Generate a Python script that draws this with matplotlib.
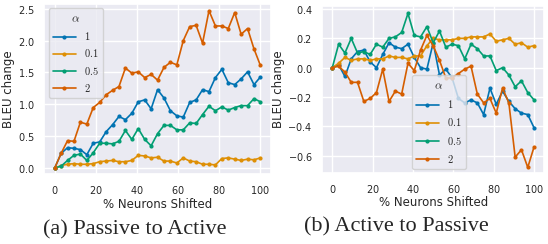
import matplotlib
matplotlib.use("Agg")
import matplotlib.pyplot as plt
import seaborn as sns
import numpy as np

sns.set_theme(style="darkgrid", palette="colorblind")
plt.rcParams['mathtext.fontset'] = 'cm'
plt.rcParams['axes.formatter.use_mathtext'] = True

# % neurons shifted, 33 steps
pct = np.linspace(0, 100, 33)
alphas = ['1', '0.1', '0.5', '2']

# (a) passive to active
pa_1 = [0, 0.23, 0.32, 0.31, 0.29, 0.21, 0.39, 0.41, 0.57, 0.68, 0.81, 0.76, 0.86,
        1.04, 1.07, 0.93, 1.23, 1.10, 0.90, 0.82, 0.80, 1.03, 1.07, 1.23, 1.20,
        1.42, 1.55, 1.34, 1.31, 1.40, 1.51, 1.31, 1.43]
pa_01 = [0, 0.04, 0.06, 0.07, 0.06, 0.06, 0.07, 0.10, 0.11, 0.12, 0.10, 0.10, 0.12,
         0.20, 0.19, 0.16, 0.17, 0.11, 0.11, 0.08, 0.16, 0.11, 0.10, 0.06, 0.06,
         0.05, 0.15, 0.16, 0.14, 0.12, 0.14, 0.13, 0.16]
pa_05 = [0, 0.03, 0.12, 0.20, 0.22, 0.12, 0.24, 0.39, 0.39, 0.38, 0.42, 0.59, 0.45,
         0.62, 0.45, 0.35, 0.54, 0.67, 0.67, 0.60, 0.60, 0.71, 0.70, 0.84, 0.97,
         0.90, 0.96, 0.91, 0.95, 0.98, 0.98, 1.09, 1.04]
pa_2 = [0, 0.23, 0.43, 0.42, 0.72, 0.69, 0.95, 1.03, 1.15, 1.22, 1.28, 1.57, 1.49,
        1.51, 1.42, 1.47, 1.38, 1.58, 1.66, 1.62, 2.00, 2.22, 2.24, 1.96, 2.47,
        2.23, 2.23, 2.19, 2.44, 2.10, 2.19, 1.87, 1.61]

# (b) active to passive
ap_1 = [0, 0.02, -0.06, 0.06, 0.11, 0.12, 0.04, 0.00, 0.09, 0.17, 0.14, 0.13, 0.16,
        0.07, 0.00, -0.01, 0.17, -0.05, -0.01, -0.07, -0.21, -0.24, -0.22, -0.24,
        -0.32, -0.14, -0.25, -0.16, -0.23, -0.28, -0.31, -0.32, -0.41]
ap_01 = [0, 0.03, 0.07, 0.05, 0.06, 0.06, 0.05, 0.06, 0.06, 0.08, 0.07, 0.07, 0.06,
         0.08, 0.08, 0.15, 0.20, 0.19, 0.19, 0.19, 0.20, 0.20, 0.21, 0.21, 0.21,
         0.23, 0.18, 0.19, 0.20, 0.16, 0.17, 0.14, 0.15]
ap_05 = [0, 0.16, 0.10, 0.20, 0.10, 0.11, 0.09, 0.16, 0.14, 0.20, 0.21, 0.24, 0.37,
         0.22, 0.21, 0.28, 0.17, 0.25, 0.14, 0.16, 0.15, 0.06, 0.16, 0.13, 0.08,
         0.08, -0.02, 0.00, -0.05, -0.13, -0.09, -0.17, -0.22]
ap_2 = [0, 0.01, -0.03, -0.10, -0.10, -0.23, -0.21, -0.17, -0.01, -0.23, -0.16,
        -0.18, 0.03, -0.02, 0.12, 0.22, 0.15, 0.05, -0.07, -0.07, -0.04, -0.01,
        0.01, -0.18, -0.24, -0.21, -0.31, -0.14, -0.24, -0.61, -0.56, -0.68, -0.54]

fig = plt.figure(figsize=(5.48, 2.44), dpi=100)
ax1 = fig.add_axes([0.081, 0.285, 0.413, 0.70])
ax2 = fig.add_axes([0.588, 0.29, 0.405, 0.685])

def draw(ax, series):
    for lab, ys in zip(alphas, series):
        ax.plot(pct, ys, marker='o', markersize=2, linewidth=1.2, label='$' + lab + '$')
    ax.tick_params(labelsize=7, pad=1)
    ax.set_xlabel('% Neurons Shifted', fontsize=8.5, labelpad=1)
    ax.set_ylabel('BLEU change', fontsize=8.5, labelpad=2)
    ax.set_xlim(-5, 105)

draw(ax1, [pa_1, pa_01, pa_05, pa_2])
ax1.set_ylim(-0.1, 2.58)
ax1.set_yticks([0, 0.5, 1.0, 1.5, 2.0, 2.5])
ax1.set_xticks([0, 20, 40, 60, 80, 100])
ax1.legend(title=r'$\alpha$', loc='upper left', fontsize=7.5, title_fontsize=8.5,
           handlelength=2.2, borderaxespad=0.4)

draw(ax2, [ap_1, ap_01, ap_05, ap_2])
ax2.set_ylim(-0.72, 0.42)
ax2.set_yticks([-0.6, -0.4, -0.2, 0.0, 0.2, 0.4])
ax2.set_xticks([0, 20, 40, 60, 80, 100])
ax2.legend(title=r'$\alpha$', loc='lower left', bbox_to_anchor=(0.385, 0.0),
           fontsize=7.5, title_fontsize=8.5, handlelength=2.2, borderaxespad=0.4,
           labelspacing=0.6)

fig.text(0.246, 0.04, '(a) Passive to Active', family='Liberation Serif',
         fontsize=16, ha='center')
fig.text(0.724, 0.05, '(b) Active to Passive', family='Liberation Serif',
         fontsize=16, ha='center')

fig.savefig('out.png', dpi=100)
